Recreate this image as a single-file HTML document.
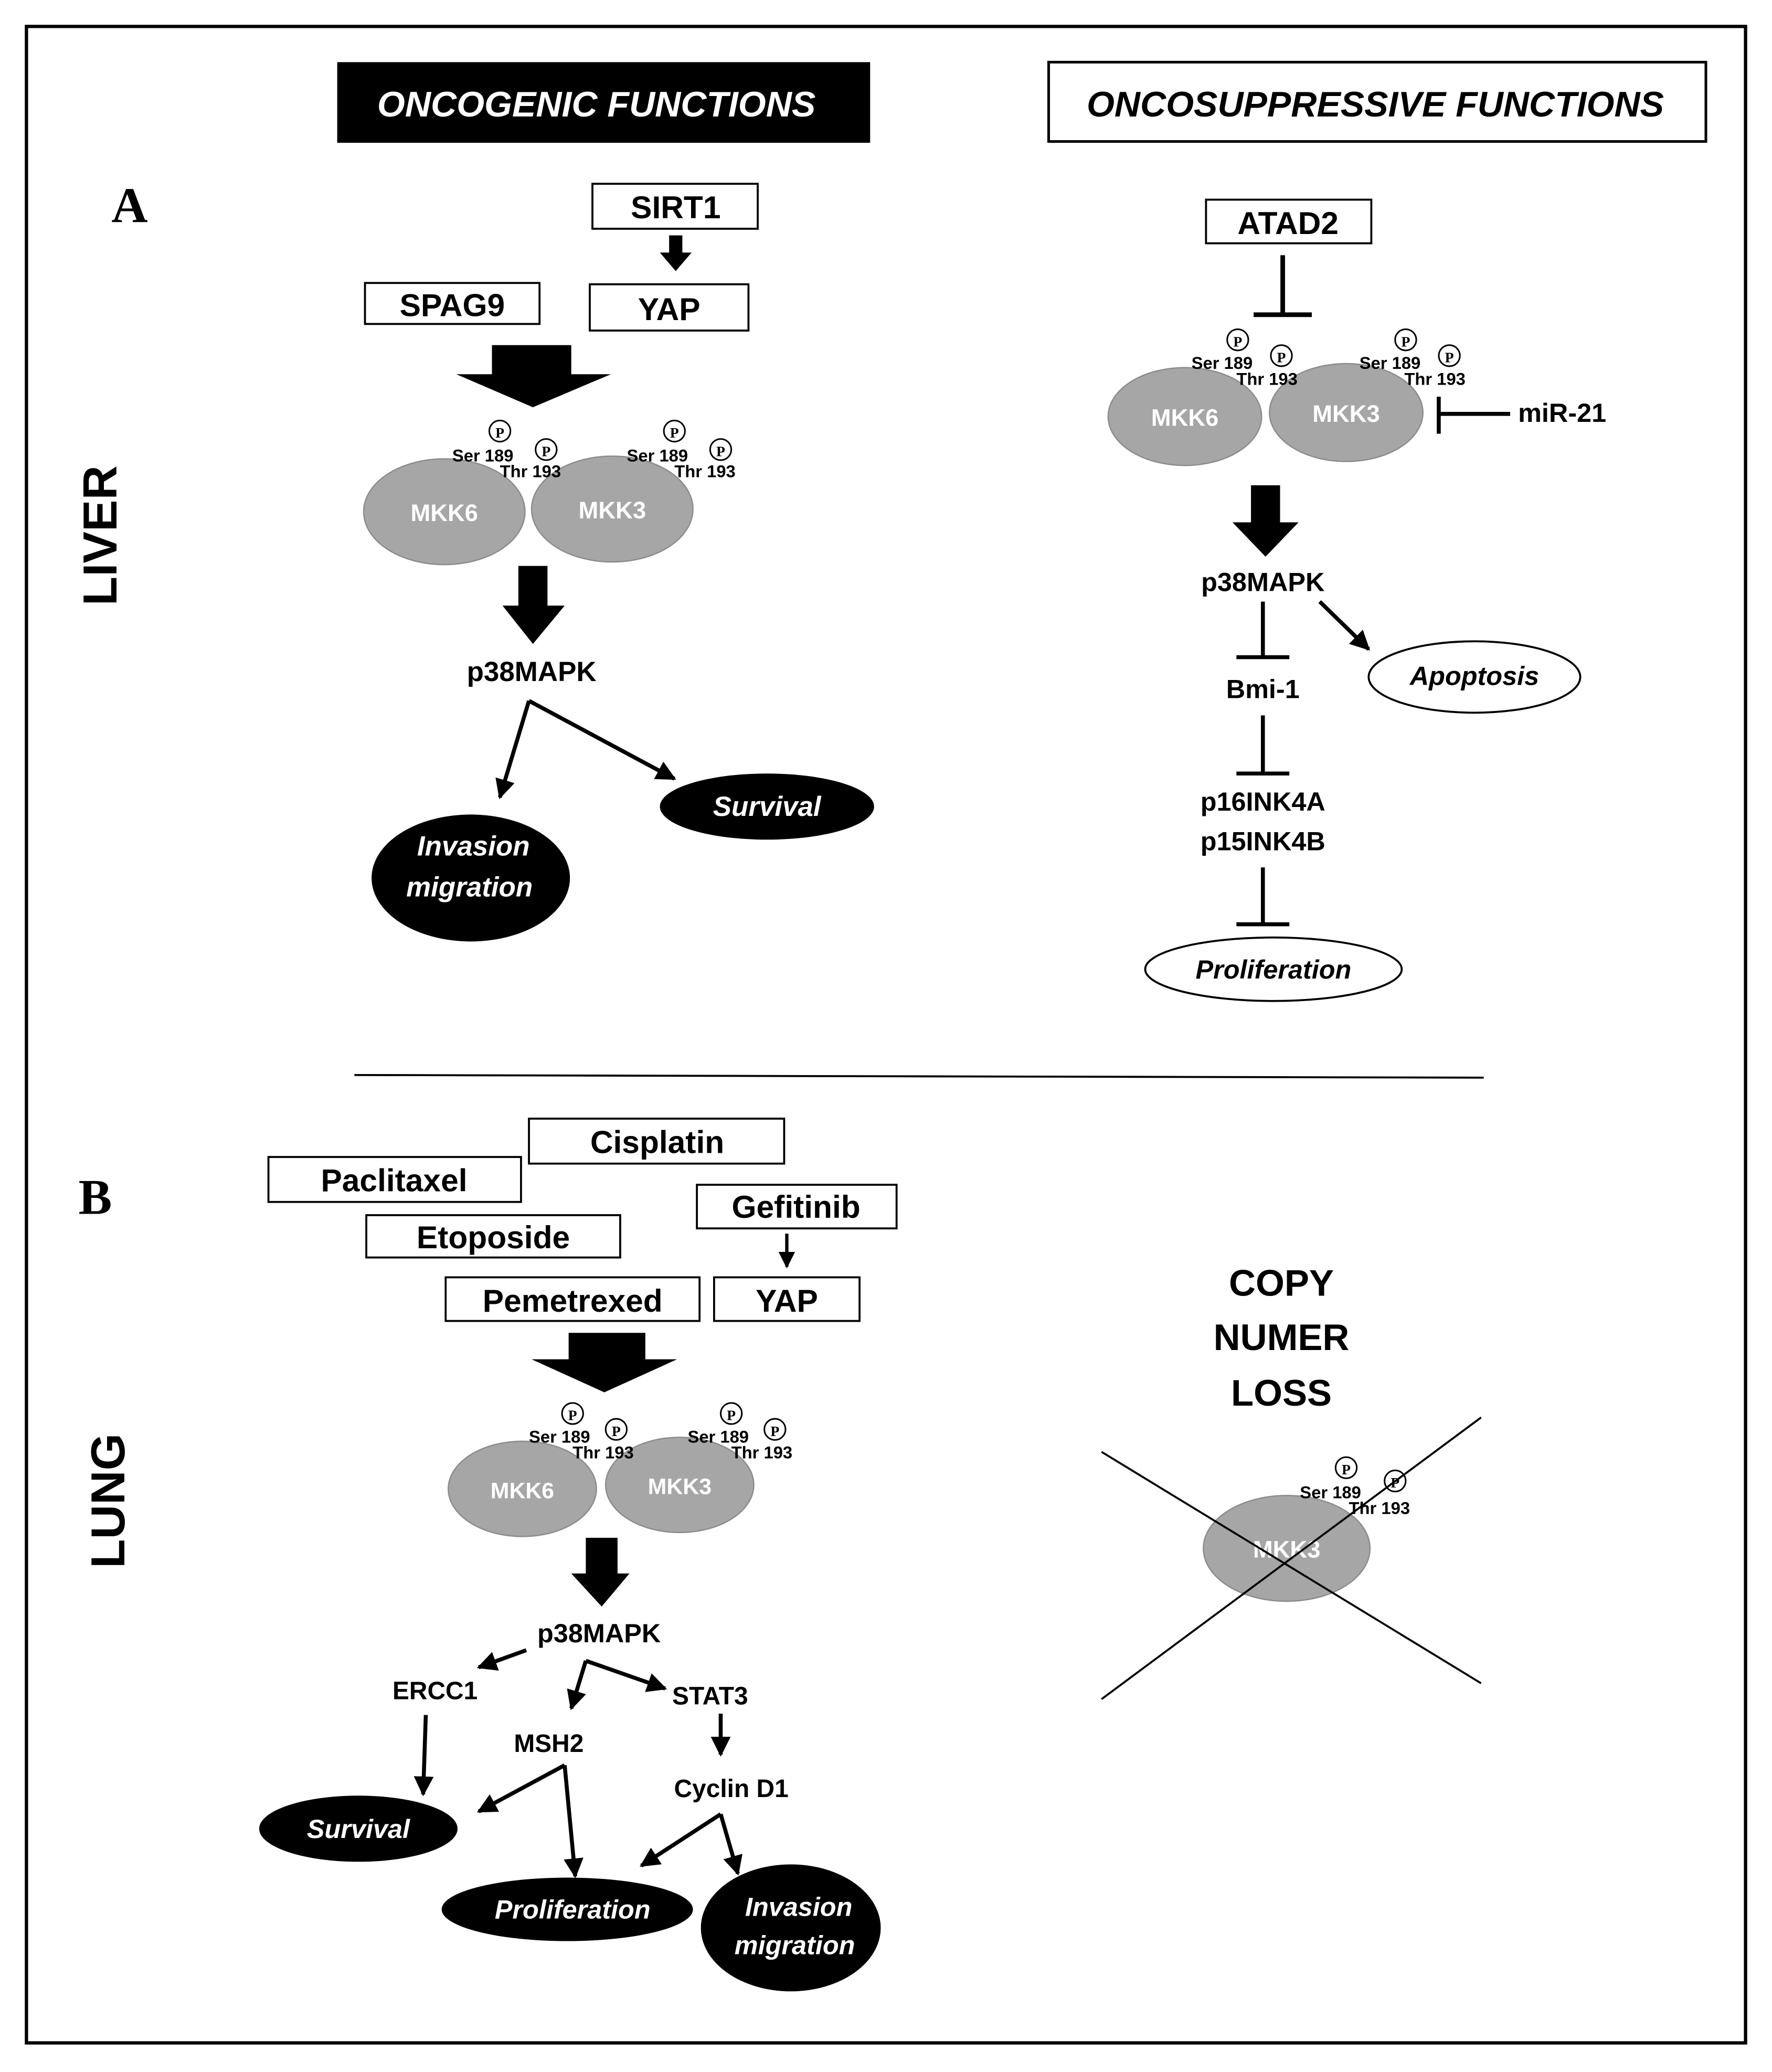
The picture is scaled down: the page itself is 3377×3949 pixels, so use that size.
<!DOCTYPE html>
<html><head><meta charset="utf-8"><style>
html,body{margin:0;padding:0;background:#fff}
svg{display:block}
text{font-family:"Liberation Sans",sans-serif;font-weight:bold}
</style></head><body>
<svg width="3377" height="3949" viewBox="0 0 1340 1567" preserveAspectRatio="none" xmlns="http://www.w3.org/2000/svg">
<defs>
<marker id="ah" viewBox="0 0 10 10" refX="9" refY="5" markerWidth="5" markerHeight="5" orient="auto" markerUnits="strokeWidth">
<path d="M0,0 L10,5 L0,10 z" fill="#000"/></marker>
</defs>
<rect x="0" y="0" width="1340" height="1567" fill="#fff"/>
<rect x="20" y="20" width="1300" height="1525" fill="none" stroke="#000" stroke-width="2.5"/>

<!-- headers -->
<rect x="255" y="47" width="403" height="61" fill="#000"/>
<text x="451" y="88" font-size="27" font-style="italic" fill="#fff" text-anchor="middle">ONCOGENIC FUNCTIONS</text>
<rect x="793" y="47" width="497" height="60" fill="#fff" stroke="#000" stroke-width="2"/>
<text x="1040" y="88" font-size="27" font-style="italic" text-anchor="middle">ONCOSUPPRESSIVE FUNCTIONS</text>

<text x="98" y="168" font-size="38" text-anchor="middle" style="font-family:'Liberation Serif',serif">A</text>
<text x="72" y="918" font-size="38" text-anchor="middle" style="font-family:'Liberation Serif',serif">B</text>
<text transform="translate(88,405) rotate(-90)" font-size="36" text-anchor="middle">LIVER</text>
<text transform="translate(94,1135) rotate(-90)" font-size="36" text-anchor="middle">LUNG</text>

<g font-size="24">
<rect x="448" y="139" width="125" height="34" fill="#fff" stroke="#000" stroke-width="1.5"/>
<text x="511" y="165" text-anchor="middle">SIRT1</text>
<rect x="506" y="178" width="10" height="14" fill="#000"/><path d="M499,191 L523,191 L511,205 z" fill="#000"/>
<rect x="446" y="215" width="120" height="35" fill="#fff" stroke="#000" stroke-width="1.5"/>
<text x="506" y="242" text-anchor="middle">YAP</text>
<rect x="276" y="214" width="132" height="31" fill="#fff" stroke="#000" stroke-width="1.5"/>
<text x="342" y="239" text-anchor="middle">SPAG9</text>
<path d="M372,261 L432,261 L432,283 L462,283 L403,308 L345,283 L372,283 z" fill="#000"/>
</g>

<g font-size="18" fill="#fff">
<ellipse cx="336" cy="387" rx="61" ry="40" fill="#a6a6a6" stroke="#8c8c8c"/>
<ellipse cx="463" cy="385" rx="61" ry="40" fill="#a6a6a6" stroke="#8c8c8c"/>
<text x="336" y="394" text-anchor="middle" font-weight="normal">MKK6</text>
<text x="463" y="392" text-anchor="middle" font-weight="normal">MKK3</text>
</g>
<g font-size="13">
<g id="pg1">
<circle cx="378" cy="326" r="8" fill="#fff" stroke="#000" stroke-width="1.2"/><text x="378" y="331" text-anchor="middle" font-size="11" style="font-family:'Liberation Serif',serif">P</text>
<circle cx="413" cy="340" r="8" fill="#fff" stroke="#000" stroke-width="1.2"/><text x="413" y="345" text-anchor="middle" font-size="11" style="font-family:'Liberation Serif',serif">P</text>
<text x="342" y="349">Ser 189</text>
<text x="378" y="361">Thr 193</text>
</g>
<use href="#pg1" x="132" y="0"/>
</g>
<path d="M392,428 L414,428 L414,458 L427,458 L403,487 L380,458 L392,458 z" fill="#000"/>
<text x="402" y="515" font-size="21" text-anchor="middle">p38MAPK</text>
<path d="M400,530 L378,603" stroke="#000" stroke-width="3" fill="none" marker-end="url(#ah)"/>
<path d="M400,530 L510,589" stroke="#000" stroke-width="3" fill="none" marker-end="url(#ah)"/>
<ellipse cx="580" cy="610" rx="81" ry="25" fill="#000"/>
<text x="580" y="617" font-size="21" font-style="italic" fill="#fff" text-anchor="middle">Survival</text>
<ellipse cx="356" cy="664" rx="75" ry="48" fill="#000"/>
<text x="358" y="647" font-size="21" font-style="italic" fill="#fff" text-anchor="middle">Invasion</text>
<text x="355" y="678" font-size="21" font-style="italic" fill="#fff" text-anchor="middle">migration</text>

<!-- Liver oncosuppressive -->
<rect x="912" y="151" width="125" height="33" fill="#fff" stroke="#000" stroke-width="1.5"/>
<text x="974" y="177" font-size="24" text-anchor="middle">ATAD2</text>
<path d="M970,193 L970,238 M948,238 L992,238" stroke="#000" stroke-width="3.5"/>
<ellipse cx="896" cy="315" rx="58" ry="37" fill="#a6a6a6" stroke="#8c8c8c"/>
<ellipse cx="1018" cy="312" rx="58" ry="37" fill="#a6a6a6" stroke="#8c8c8c"/>
<text x="896" y="322" font-size="18" fill="#fff" text-anchor="middle" font-weight="normal">MKK6</text>
<text x="1018" y="319" font-size="18" fill="#fff" text-anchor="middle" font-weight="normal">MKK3</text>
<g font-size="13">
<g id="pg2">
<circle cx="936" cy="257" r="8" fill="#fff" stroke="#000" stroke-width="1.2"/><text x="936" y="262" text-anchor="middle" font-size="11" style="font-family:'Liberation Serif',serif">P</text>
<circle cx="969" cy="269" r="8" fill="#fff" stroke="#000" stroke-width="1.2"/><text x="969" y="274" text-anchor="middle" font-size="11" style="font-family:'Liberation Serif',serif">P</text>
<text x="901" y="279">Ser 189</text>
<text x="935" y="291">Thr 193</text>
</g>
<use href="#pg2" x="127" y="0"/>
</g>
<path d="M1088,313 L1142,313 M1088,300 L1088,328" stroke="#000" stroke-width="3"/>
<text x="1148" y="319" font-size="20">miR-21</text>
<path d="M946,367 L968,367 L968,395 L982,395 L957,421 L932,395 L946,395 z" fill="#000"/>
<text x="955" y="447" font-size="20" text-anchor="middle">p38MAPK</text>
<path d="M955,455 L955,497 M935,497 L975,497" stroke="#000" stroke-width="3"/>
<path d="M998,455 L1035,491" stroke="#000" stroke-width="3" marker-end="url(#ah)"/>
<ellipse cx="1115" cy="512" rx="80" ry="27" fill="#fff" stroke="#000" stroke-width="1.5"/>
<text x="1115" y="518" font-size="20" font-style="italic" text-anchor="middle">Apoptosis</text>
<text x="955" y="528" font-size="20" text-anchor="middle">Bmi-1</text>
<path d="M955,541 L955,585 M935,585 L975,585" stroke="#000" stroke-width="3"/>
<text x="955" y="613" font-size="20" text-anchor="middle">p16INK4A</text>
<text x="955" y="643" font-size="20" text-anchor="middle">p15INK4B</text>
<path d="M955,656 L955,699 M935,699 L975,699" stroke="#000" stroke-width="3"/>
<ellipse cx="963" cy="733" rx="97" ry="24" fill="#fff" stroke="#000" stroke-width="1.5"/>
<text x="963" y="740" font-size="20" font-style="italic" text-anchor="middle">Proliferation</text>

<line x1="268" y1="813" x2="1122" y2="815" stroke="#000" stroke-width="1.5"/>

<!-- Lung -->
<g font-size="24">
<rect x="400" y="846" width="193" height="34" fill="#fff" stroke="#000" stroke-width="1.5"/>
<text x="497" y="872" text-anchor="middle">Cisplatin</text>
<rect x="203" y="875" width="191" height="34" fill="#fff" stroke="#000" stroke-width="1.5"/>
<text x="298" y="901" text-anchor="middle">Paclitaxel</text>
<rect x="277" y="919" width="192" height="32" fill="#fff" stroke="#000" stroke-width="1.5"/>
<text x="373" y="944" text-anchor="middle">Etoposide</text>
<rect x="527" y="896" width="151" height="33" fill="#fff" stroke="#000" stroke-width="1.5"/>
<text x="602" y="921" text-anchor="middle">Gefitinib</text>
<rect x="337" y="966" width="192" height="33" fill="#fff" stroke="#000" stroke-width="1.5"/>
<text x="433" y="992" text-anchor="middle">Pemetrexed</text>
<rect x="540" y="966" width="110" height="33" fill="#fff" stroke="#000" stroke-width="1.5"/>
<text x="595" y="992" text-anchor="middle">YAP</text>
</g>
<path d="M595,933 L595,958" stroke="#000" stroke-width="2.5" marker-end="url(#ah)"/>
<path d="M430,1008 L488,1008 L488,1028 L512,1028 L457,1053 L402,1028 L430,1028 z" fill="#000"/>
<ellipse cx="395" cy="1126" rx="56" ry="36" fill="#a6a6a6" stroke="#8c8c8c"/>
<ellipse cx="514" cy="1123" rx="56" ry="36" fill="#a6a6a6" stroke="#8c8c8c"/>
<text x="395" y="1133" font-size="17" fill="#fff" text-anchor="middle" font-weight="normal">MKK6</text>
<text x="514" y="1130" font-size="17" fill="#fff" text-anchor="middle" font-weight="normal">MKK3</text>
<g font-size="13">
<g id="pg3">
<circle cx="433" cy="1069" r="8" fill="#fff" stroke="#000" stroke-width="1.2"/><text x="433" y="1074" text-anchor="middle" font-size="11" style="font-family:'Liberation Serif',serif">P</text>
<circle cx="466" cy="1081" r="8" fill="#fff" stroke="#000" stroke-width="1.2"/><text x="466" y="1086" text-anchor="middle" font-size="11" style="font-family:'Liberation Serif',serif">P</text>
<text x="400" y="1091">Ser 189</text>
<text x="433" y="1103">Thr 193</text>
</g>
<use href="#pg3" x="120" y="0"/>
</g>
<path d="M443,1163 L467,1163 L467,1190 L476,1190 L455,1215 L432,1190 L443,1190 z" fill="#000"/>
<text x="453" y="1242" font-size="20" text-anchor="middle">p38MAPK</text>
<g stroke="#000" stroke-width="3" fill="none">
<path d="M398,1248 L362,1261" marker-end="url(#ah)"/>
<path d="M443,1256 L432,1292" marker-end="url(#ah)"/>
<path d="M443,1256 L503,1277" marker-end="url(#ah)"/>
<path d="M322,1297 L320,1357" marker-end="url(#ah)"/>
<path d="M427,1335 L362,1370" marker-end="url(#ah)"/>
<path d="M427,1335 L435,1419" marker-end="url(#ah)"/>
<path d="M545,1296 L545,1327" marker-end="url(#ah)"/>
<path d="M545,1372 L485,1411" marker-end="url(#ah)"/>
<path d="M545,1372 L558,1417" marker-end="url(#ah)"/>
</g>
<g font-size="19" text-anchor="middle">
<text x="329" y="1285">ERCC1</text>
<text x="537" y="1289">STAT3</text>
<text x="415" y="1325">MSH2</text>
<text x="553" y="1359">Cyclin D1</text>
</g>
<ellipse cx="271" cy="1383" rx="75" ry="25" fill="#000"/>
<text x="271" y="1390" font-size="20" font-style="italic" fill="#fff" text-anchor="middle">Survival</text>
<ellipse cx="429" cy="1444" rx="95" ry="24" fill="#000"/>
<text x="433" y="1451" font-size="20" font-style="italic" fill="#fff" text-anchor="middle">Proliferation</text>
<ellipse cx="598" cy="1458" rx="68" ry="48" fill="#000"/>
<text x="604" y="1449" font-size="20" font-style="italic" fill="#fff" text-anchor="middle">Invasion</text>
<text x="601" y="1478" font-size="20" font-style="italic" fill="#fff" text-anchor="middle">migration</text>

<g font-size="28" text-anchor="middle">
<text x="969" y="980">COPY</text>
<text x="969" y="1021">NUMER</text>
<text x="969" y="1063">LOSS</text>
</g>
<ellipse cx="973" cy="1171" rx="63" ry="40" fill="#a6a6a6" stroke="#8c8c8c"/>
<text x="973" y="1178" font-size="18" fill="#fff" text-anchor="middle" font-weight="normal">MKK3</text>
<g font-size="13">
<circle cx="1018" cy="1110" r="8" fill="#fff" stroke="#000" stroke-width="1.2"/><text x="1018" y="1115" text-anchor="middle" font-size="11" style="font-family:'Liberation Serif',serif">P</text>
<circle cx="1055" cy="1120" r="8" fill="#fff" stroke="#000" stroke-width="1.2"/><text x="1055" y="1125" text-anchor="middle" font-size="11" style="font-family:'Liberation Serif',serif">P</text>
<text x="983" y="1133">Ser 189</text>
<text x="1020" y="1145">Thr 193</text>
</g>
<path d="M833,1098 L1120,1273 M1120,1072 L833,1285" stroke="#000" stroke-width="1.5"/>
</svg>
</body></html>
